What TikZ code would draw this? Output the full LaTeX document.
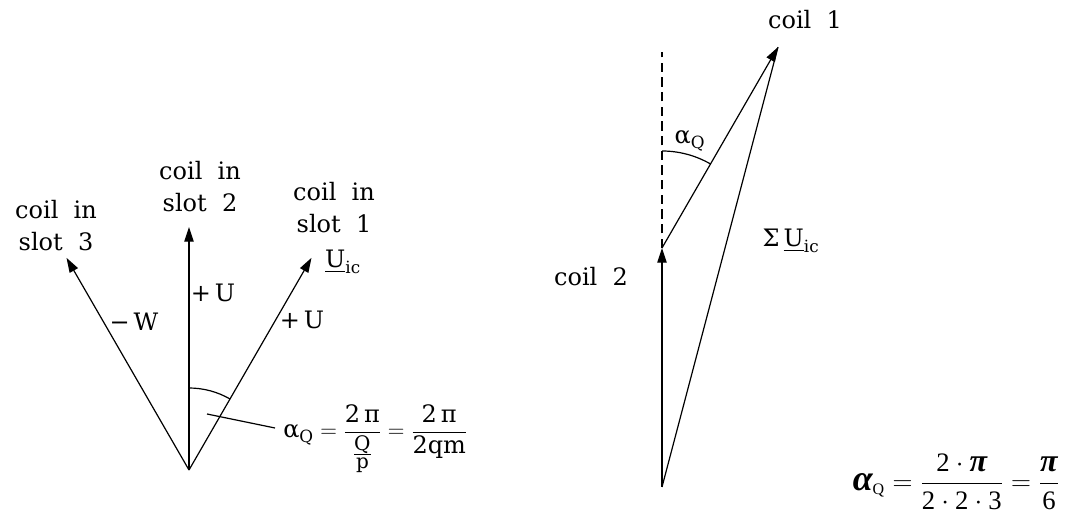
\documentclass[tikz,border=0pt]{standalone}
\usepackage{amsmath}
\usepackage{fontspec}
\newfontfamily\tnr{Liberation Serif}
\newfontfamily\dvs{DejaVu Serif}
\usetikzlibrary{positioning,arrows.meta,calc}
\newcommand{\tnum}[1]{\mbox{\tnr #1}}
\newcommand{\tbi}[1]{\mbox{\tnr\bfseries\itshape #1}}
\newcommand{\qp}[1]{\mbox{\fontsize{15}{15}\selectfont #1}}
\tikzset{
  vec/.style={-{Triangle[length=11pt,width=7pt]}, line width=0.9pt},
  ln/.style={line width=0.9pt},
  lbl/.style={font=\dvs\fontsize{18}{24}\selectfont, align=center, inner sep=0pt},
}

\begin{document}
\begin{tikzpicture}[x=0.75pt, y=0.75pt]
\useasboundingbox (0,0) rectangle (1066,516);

% ---------------- star of slot voltages ----------------
\coordinate (o1) at (189,46);
\coordinate (s2) at ($(o1)+(90:243)$);
\coordinate (s1) at ($(o1)+(60:245)$);
\coordinate (s3) at ($(o1)+(120:245)$);
\draw[vec] (o1) -- (s1);
\draw[vec] (o1) -- (s2);
\draw[vec] (o1) -- (s3);
\draw[ln] ($(o1)+(90:82)$) arc[start angle=90, end angle=60, radius=61.5pt];

\node[lbl] (t3) at (56,290) {coil\ \ in\\slot\ \ 3};
\node[lbl] (t2) at (200,329) {coil\ \ in\\slot\ \ 2};
\node[lbl] (t1) at (334,308) {coil\ \ in\\slot\ \ 1};
\node[lbl] (uic) at (343,254) {$\underline{\text{U}}_{\text{ic}}$};
\node[lbl] (mw) at (134,194) {−\,W};
\node[lbl] (pu2) at (213,223) {+\,U};
\node[lbl] (pu1) at (302,196) {+\,U};

\coordinate (lead) at (207,102);
\node[lbl, anchor=base west] (alpha1) at (283,78)
  {$\displaystyle \text{α}_{\text{Q}} = \frac{\text{2\,π}}{\frac{\qp{Q}}{\qp{p}}} = \frac{\text{2\,π}}{\text{2qm}}$};
\draw[ln] (lead) -- (275,88);

% ---------------- sum of two coil voltages ----------------
\coordinate (o2) at (662,29);
\coordinate (c2) at ($(o2)+(90:239)$);
\coordinate (c1) at ($(c2)+(60:232)$);
\coordinate (top) at (662,464);
\draw[vec] (o2) -- (c2);
\draw[ln] (o2) -- (c1);
\draw[vec] (c2) -- (c1);
\draw[ln, dash pattern=on 7pt off 4pt] (c2) -- (top);
\draw[ln] ($(c2)+(90:97)$) arc[start angle=90, end angle=60, radius=72.75pt];

\node[lbl] (k1) at (805,496) {coil\ \ 1};
\node[lbl] (k2) at (591,239) {coil\ \ 2};
\node[lbl] (aq) at (690,375) {α$_{\text{Q}}$};
\node[lbl] (sum) at (791,275) {Σ\,$\underline{\text{U}}_{\text{ic}}$};

% ---------------- numeric value ----------------
\node[lbl, font=\fontsize{20}{24}\selectfont, anchor=south] (alpha2) at (956,6)
  {$\displaystyle \tbi{\fontsize{27}{27}\selectfont α}_{\tnum{\fontsize{12}{12}\selectfont Q}} = \frac{\tnum{2}\cdot\tbi{\fontsize{24}{24}\selectfont π}}{\tnum{2}\cdot\tnum{2}\cdot\tnum{3}} = \frac{\tbi{\fontsize{24}{24}\selectfont π}}{\tnum{6}}$};

\end{tikzpicture}
\end{document}
